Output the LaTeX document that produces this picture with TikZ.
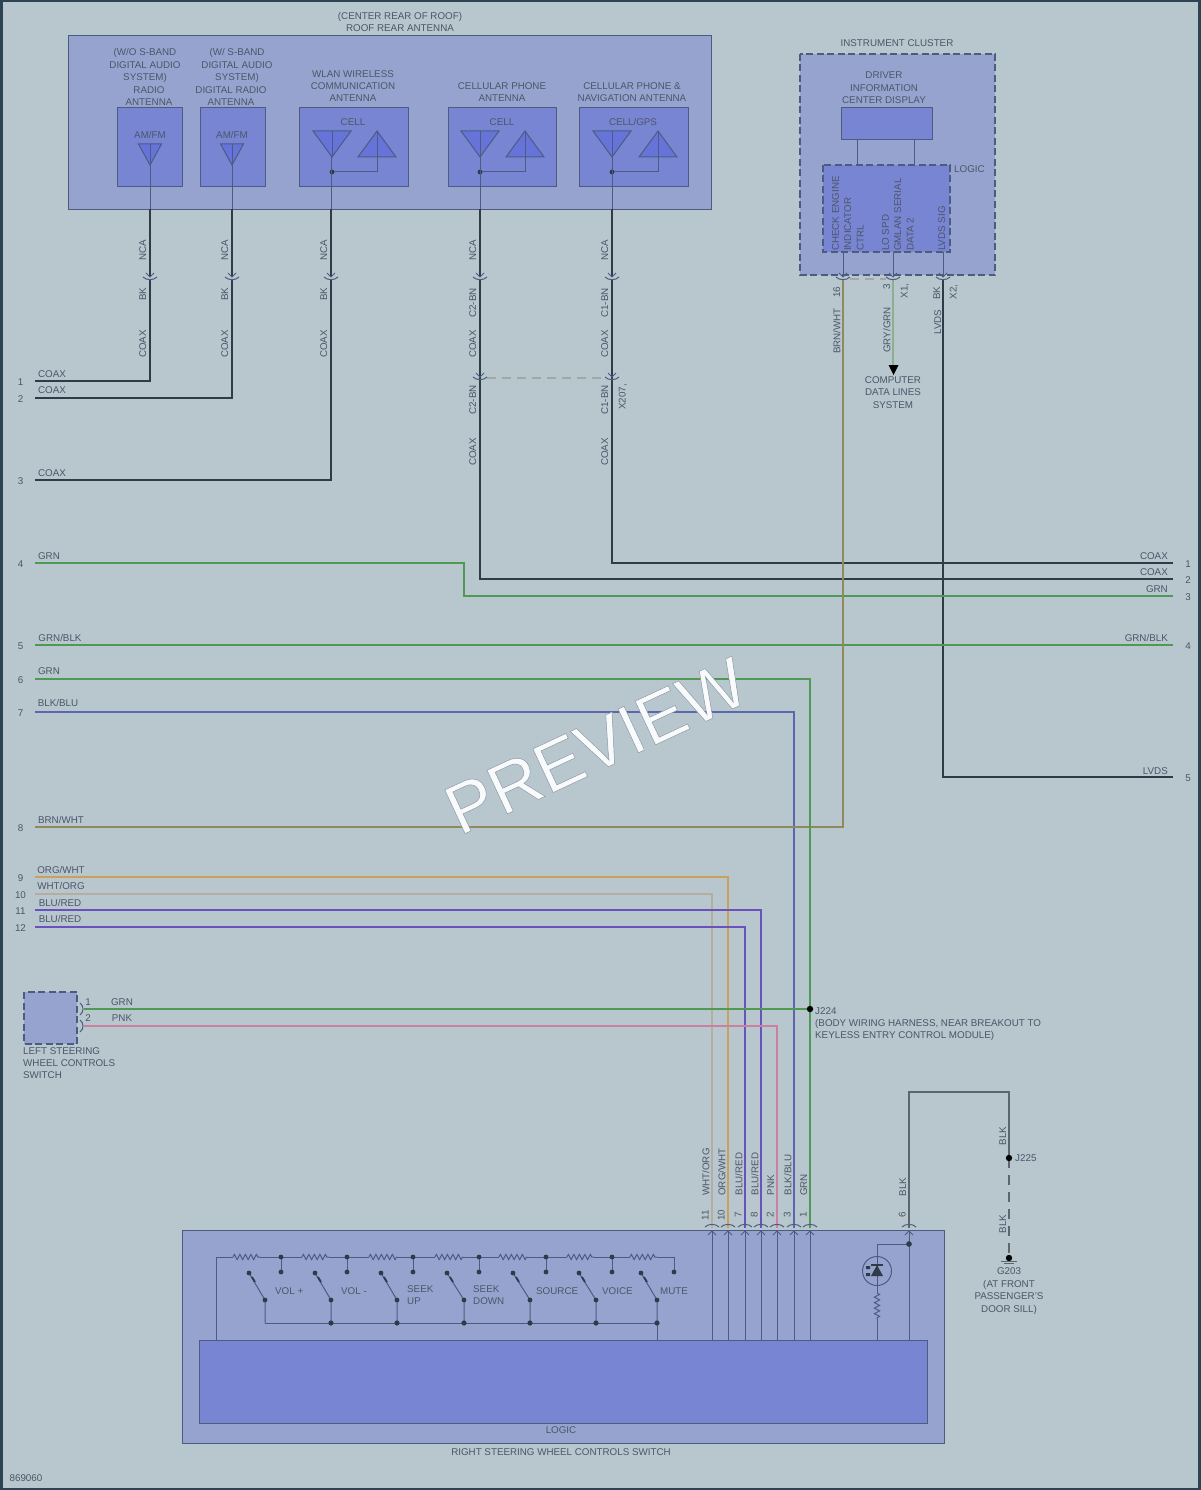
\documentclass[tikz,border=0pt]{standalone}
\usepackage{fontspec}
\setmainfont{Liberation Sans}
\usetikzlibrary{decorations.pathmorphing}
\definecolor{paper}{HTML}{B8C6CE}
\definecolor{frame}{HTML}{2E4352}
\definecolor{outerblue}{HTML}{96A3CF}
\definecolor{innerblue}{HTML}{7885D2}
\definecolor{antblue}{HTML}{6674DA}
\definecolor{edge}{HTML}{4C5C80}
\definecolor{inkgray}{HTML}{4B5668}
\definecolor{coaxblack}{HTML}{2F3B47}
\definecolor{grnwire}{HTML}{4E9A55}
\definecolor{bluwire}{HTML}{5C66B0}
\definecolor{brnwire}{HTML}{8E8A5E}
\definecolor{orgwire}{HTML}{C9A15F}
\definecolor{whtwire}{HTML}{B5AE9F}
\definecolor{redwire}{HTML}{6A52BE}
\definecolor{pnkwire}{HTML}{CC7F9F}
\definecolor{grywire}{HTML}{8FAE8F}
\definecolor{gndwire}{HTML}{5A6670}
\tikzset{
  lab/.style={font=\fontsize{9.8}{12.4}\selectfont, text=inkgray, inner sep=0pt, align=center},
  vlab/.style={lab, xshift=0.8pt, rotate=90},
  modbox/.style={draw=edge, line width=1pt, fill=outerblue},
  subbox/.style={draw=edge, line width=1pt, fill=innerblue},
  dashbox/.style={modbox, dashed, dash pattern=on 7pt off 3.5pt, line width=1.3pt},
  thinwire/.style={draw=edge, line width=1pt},
  res/.style={thinwire, decorate, decoration={zigzag, segment length=5.5pt, amplitude=2.6pt}},
  wire/.style={line width=2.8pt},
  coax/.style={wire, draw=coaxblack},
  linkdash/.style={draw=gray!70, line width=1.2pt, dash pattern=on 9pt off 6pt},
  anttri/.style={fill=antblue, draw=edge, line width=1pt},
  plugdown/.pic={
    \draw[thinwire] (-4,-6) -- (0,-2) -- (4,-6);
    \draw[thinwire] (-7,-2) .. controls (-4,1.5) and (4,1.5) .. (7,-2);
  },
  plugup/.pic={
    \draw[thinwire] (-7,-1) .. controls (-4,-4.5) and (4,-4.5) .. (7,-1);
    \draw[thinwire] (-4,7) -- (0,3) -- (4,7);
  },
  plugside/.pic={
    \draw[thinwire] (-3,-6) .. controls (1,-3) and (1,3) .. (-3,6);
  },
  antdown/.pic={
    \filldraw[anttri] (-19,0) -- (19,0) -- (0,26) -- cycle;
    \draw[thinwire] (0,0) -- (0,26);
  },
  antup/.pic={
    \filldraw[anttri] (-19,26) -- (19,26) -- (0,0) -- cycle;
    \draw[thinwire] (0,0) -- (0,26);
  },
  antsmall/.pic={
    \filldraw[anttri] (-11.5,0) -- (11.5,0) -- (0,21) -- cycle;
    \draw[thinwire] (0,0) -- (0,21);
  }
}

\begin{document}
\begin{tikzpicture}[x=1pt,y=-1pt]
  \useasboundingbox (0,0) rectangle (1200,1490);
  % Sheet and frame
  \fill[paper] (0,0) rectangle (1200,1490);
  \draw[frame, line width=5pt] (0,0) rectangle (1200,1490);

  % Roof antenna module
  \draw[modbox] (68,36) rectangle (711,209);
  \node[lab] (roofnote) at (400,22) {(CENTER REAR OF ROOF)\\ROOF REAR ANTENNA};
  \foreach \a/\b/\n in {117/182/a, 200/265/b, 299/408/c, 448/556/d, 579/688/e}
    \draw[subbox] (\a,108) rectangle (\b,187);
  \node[lab] (woband) at (145,65.5) {(W/O S-BAND\\DIGITAL AUDIO\\SYSTEM)};
  \node[lab] (woradio) at (149,96) {RADIO\\ANTENNA};
  \node[lab] (wband) at (237,65.5) {(W/ S-BAND\\DIGITAL AUDIO\\SYSTEM)};
  \node[lab] (wradio) at (231,96) {DIGITAL RADIO\\ANTENNA};
  \node[lab] (wlan) at (353,86) {WLAN WIRELESS\\COMMUNICATION\\ANTENNA};
  \node[lab] (cellph) at (502,92) {CELLULAR PHONE\\ANTENNA};
  \node[lab] (cellnav) at (632,92) {CELLULAR PHONE \&\\NAVIGATION ANTENNA};
  \node[lab] (amfma) at (150,135) {AM/FM};
  \node[lab] (amfmb) at (232,135) {AM/FM};
  \node[lab] (cellc) at (353,122) {CELL};
  \node[lab] (celld) at (502,122) {CELL};
  \node[lab] (celle) at (633,122) {CELL/GPS};

  % Antenna symbols
  \pic at (150,144) {antsmall};
  \pic at (232,144) {antsmall};
  \foreach \x/\u in {332/377, 480/525, 612/658} {
    \pic at (\x,131) {antdown};
    \pic at (\u,131) {antup};
    \draw[thinwire] (\u,157) |- (\x,172);
    \fill[coaxblack] (\x,172) circle (2.4pt);
  }

  % Antenna leads and their connectors
  \foreach \x/\n/\pin/\py in {150/a/BK/294, 232/b/BK/294, 331/c/BK/294, 480/d/C2-BN/303, 612/e/C1-BN/303} {
    \coordinate (box\n) at (\x,209);
    \coordinate (top\n) at (\x,157);
    \coordinate (plug\n) at (\x,279);
    \draw[thinwire] (top\n) -- (box\n);
    \draw[coax] (box\n) -- (\x,277);
    \node[vlab] (nca\n) at (\x-8,250) {NCA};
    \node[vlab] (pin\n) at (\x-8,\py) {\pin};
    \node[vlab] (cx\n) at (\x-8,344) {COAX};
  }
  % Left and right terminals
  \foreach \n/\y in {1/381, 2/398, 3/480, 4/563, 5/645, 6/679, 7/712, 8/827, 9/877, 10/894, 11/910, 12/927} {
    \coordinate (lft\n) at (35,\y);
    \node[lab] (num\n) at (20.5,\y+1) {\n};
  }
  \foreach \n/\y in {1/563, 2/579, 3/596, 4/645, 5/777} {
    \coordinate (rgt\n) at (1173,\y);
    \node[lab] (rnum\n) at (1188,\y+1) {\n};
  }
  % Cell leads, with the inline connector X207
  \coordinate (x207d) at (480,379);
  \coordinate (x207e) at (612,379);
  \coordinate (linkd) at (487,378);
  \coordinate (linke) at (606,378);
  \draw[coax] (plugd) -- (x207d);
  \draw[coax] (pluge) -- (x207e);
  \draw[coax] (x207d) |- (rgt2);
  \draw[coax] (x207e) |- (rgt1);
  \draw[coax] (pluga) |- (lft1);
  \draw[coax] (plugb) |- (lft2);
  \draw[coax] (plugc) |- (lft3);
  \draw[linkdash] (linkd) -- (linke);
  \foreach \n in {a,b,c,d,e} \pic at (plug\n) {plugdown};
  \pic at (x207d) {plugdown};
  \pic at (x207e) {plugdown};
  \node[vlab] (c2low) at (472,400) {C2-BN};
  \node[vlab] (cxdlow) at (472,452) {COAX};
  \node[vlab] (c1low) at (604,400) {C1-BN};
  \node[vlab] (cxelow) at (604,452) {COAX};
  \node[vlab] (x207) at (622,397) {X207,};

  % Instrument cluster
  \node[lab] (cluster) at (897,43) {INSTRUMENT CLUSTER};
  \draw[dashbox] (800,54) rectangle (995,275);
  \node[lab] (dic) at (884,88) {DRIVER\\INFORMATION\\CENTER DISPLAY};
  \draw[subbox] (841,108) rectangle (932,140);
  \draw[thinwire] (857,140) -- (857,165);
  \draw[thinwire] (914,140) -- (914,165);
  \draw[subbox, dashed, dash pattern=on 7pt off 3.5pt, line width=1.3pt] (823,165) rectangle (950,252);
  \node[lab, anchor=west] (cllogic) at (954,169) {LOGIC};
  \node[vlab, anchor=west, align=left] (chk) at (847,251) {CHECK ENGINE\\INDICATOR\\CTRL};
  \node[vlab, anchor=west, align=left] (gmlan) at (897,251) {LO SPD\\GMLAN SERIAL\\DATA 2};
  \node[vlab, anchor=west, align=left] (lvdssig) at (941,251) {LVDS SIG};
  \foreach \x/\n in {843/h, 893/i, 943/j} {
    \coordinate (clu\n) at (\x,279);
    \draw[thinwire] (\x,252) -- (\x,277);
  }
  \coordinate (linkh) at (850,279);
  \coordinate (linki) at (886,279);
  \draw[linkdash] (linkh) -- (linki);
  \node[vlab] (p16) at (836,292) {16};
  \node[vlab] (p3) at (886,287) {3};
  \node[vlab] (px1) at (904,291) {X1,};
  \node[vlab] (pbk) at (936,293) {BK};
  \node[vlab] (px2) at (953,292) {X2,};
  \node[vlab] (lbrn) at (836,331) {BRN/WHT};
  \node[vlab] (lgry) at (886,330) {GRY/GRN};
  \node[vlab] (llvds) at (937,322) {LVDS};
  \coordinate (datal) at (893,366);
  \draw[wire, draw=grywire] (clui) -- (datal);
  \fill[black] (888.5,365) -- (898.5,365) -- (893.5,375) -- cycle;
  \node[lab] (comp) at (893,392.5) {COMPUTER\\DATA LINES\\SYSTEM};
  \draw[coax] (cluj) |- (rgt5);
  \pic at (clui) {plugdown};
  \pic at (cluj) {plugdown};
  \node[lab, anchor=east] (rlvds) at (1168,771) {LVDS};

  % Right steering wheel switch
  \draw[modbox] (182,1230) rectangle (944,1443);
  \draw[subbox] (199,1340) rectangle (927,1423);
  \node[lab] (logicr) at (561,1430) {LOGIC};
  \node[lab] (rswitch) at (561,1452) {RIGHT STEERING WHEEL CONTROLS SWITCH};
  \foreach \x/\n/\pinno/\name/\ny in {712/k/11/WHT\slash ORG/1172, 728/l/10/ORG\slash WHT/1172, 745/m/7/BLU\slash RED/1174, 761/n/8/BLU\slash RED/1174, 777/o/2/PNK/1185, 794/p/3/BLK\slash BLU/1175, 810/q/1/GRN/1185, 909/r/6/BLK/1187} {
    \coordinate (sw\n) at (\x,1228);
    \draw[thinwire] (\x,1231) -- (\x,1340);
    \node[vlab] (no\n) at (\x-7.5,1215) {\pinno};
    \node[vlab] (nm\n) at (\x-7,\ny) {\name};
  }

  % Harness wires
  \coordinate (kink) at (464,596);
  \draw[wire, draw=grnwire] (lft4) -| (kink) -- (rgt3);
  \draw[wire, draw=grnwire] (lft5) -- (rgt4);
  \draw[wire, draw=bluwire] (lft7) -| (swp);
  \draw[wire, draw=brnwire] (lft8) -| (cluh);
  \draw[wire, draw=whtwire] (lft10) -| (swk);
  \draw[wire, draw=orgwire] (lft9) -| (swl);
  \draw[wire, draw=redwire] (lft12) -| (swm);
  \draw[wire, draw=redwire] (lft11) -| (swn);
  \coordinate (lsa) at (84,1009);
  \coordinate (lsb) at (84,1026);
  \coordinate (j224) at (810,1009);
  \draw[wire, draw=pnkwire] (lsb) -| (swo);
  \draw[wire, draw=grnwire] (lft6) -| (swq);
  \draw[wire, draw=grnwire] (lsa) -- (j224);
  \fill[black] (j224) circle (3.2pt);
  \pic at (cluh) {plugdown};
  \foreach \n in {k,l,m,n,o,p,q,r} \pic at (sw\n) {plugup};
  \node[lab, anchor=west] (j224a) at (815,1011) {J224};
  \node[lab, anchor=north west, align=left] (j224b) at (815,1019) {(BODY WIRING HARNESS, NEAR BREAKOUT TO\\KEYLESS ENTRY CONTROL MODULE)};

  % Wire labels, left side
  \foreach \x/\y/\t/\n in {52/374/COAX/a, 52/390/COAX/b, 52/473/COAX/c, 49/556/GRN/d, 60/638/GRN\slash BLK/e, 49/671/GRN/f, 58/703/BLK\slash BLU/g, 61/820/BRN\slash WHT/h, 61/870/ORG\slash WHT/i, 61/886/WHT\slash ORG/j, 60/903/BLU\slash RED/k, 60/919/BLU\slash RED/l}
    \node[lab] (wl\n) at (\x,\y) {\t};
  % Wire labels, right side
  \foreach \y/\t/\n in {556/COAX/a, 572/COAX/b, 589/GRN/c, 638/GRN\slash BLK/d}
    \node[lab, anchor=east] (wr\n) at (1168,\y) {\t};

  % Left steering wheel switch
  \draw[dashbox] (24,992) rectangle (77,1044);
  \pic at (83,1009) {plugside};
  \pic at (83,1026) {plugside};
  \node[lab] (lsn1) at (88,1002) {1};
  \node[lab] (lsn2) at (88,1018) {2};
  \node[lab] (lsgrn) at (122,1002) {GRN};
  \node[lab] (lspnk) at (122,1018) {PNK};
  \node[lab, anchor=north west, align=left] (lsname) at (23,1047) {LEFT STEERING\\WHEEL CONTROLS\\SWITCH};

  % Switch ladder
  \foreach \a/\b in {216/233, 260/302, 329/369, 397/435, 463/499, 527/567, 594/630, 657/674}
    \draw[thinwire] (\a,1257) -- (\b,1257);
  \foreach \a/\b in {233/260, 302/329, 369/397, 435/463, 499/527, 567/594, 630/657}
    \draw[res] (\a,1257) -- (\b,1257);
  \draw[thinwire] (216,1257) -- (216,1340);
  \draw[thinwire] (674,1257) -- (674,1272);
  \fill[coaxblack] (674,1272) circle (2.4pt);
  \foreach \x in {281, 347, 413, 479, 546, 612} {
    \draw[thinwire] (\x,1257) -- (\x,1272);
    \fill[coaxblack] (\x,1257) circle (2.4pt) (\x,1272) circle (2.4pt);
  }
  \foreach \s/\b in {249/265, 315/331, 381/397, 447/464, 513/530, 579/596, 641/657} {
    \draw[thinwire] (\s,1273) -- (\b,1300) -- (\b,1323);
    \draw[coaxblack, line width=1.8pt] (\s+3,1277) -- (\s+6,1282);
    \fill[coaxblack] (\s,1273) circle (2.4pt) (\b,1300) circle (2.4pt);
  }
  \draw[thinwire] (265,1323) -- (657,1323) -- (657,1340);
  \foreach \b in {331, 397, 464, 530, 596, 657}
    \fill[coaxblack] (\b,1323) circle (2.6pt);
  \node[lab, anchor=west] (vup) at (275,1291) {VOL +};
  \node[lab, anchor=west] (vdn) at (341,1291) {VOL -};
  \node[lab, anchor=north west, align=left] (skup) at (407,1285.5) {SEEK\\UP};
  \node[lab, anchor=north west, align=left] (skdn) at (473,1285.5) {SEEK\\DOWN};
  \node[lab, anchor=west] (src) at (536,1291) {SOURCE};
  \node[lab, anchor=west] (voi) at (602,1291) {VOICE};
  \node[lab, anchor=west] (mut) at (660,1291) {MUTE};

  % Backlight lamp
  \coordinate (lampdot) at (909,1244);
  \draw[thinwire] (lampdot) -| (877,1293);
  \draw[res] (877,1293) -- (877,1319);
  \draw[thinwire] (877,1319) -- (877,1340);
  \draw[thinwire] (877,1271) circle (14.5pt);
  \fill[coaxblack] (871,1276) -- (883,1276) -- (877,1265) -- cycle;
  \draw[coaxblack, line width=1.4pt] (871,1265) -- (883,1265);
  \fill[coaxblack] (866,1266) rectangle (870,1269) (866,1273) rectangle (870,1276);
  \fill[coaxblack] (lampdot) circle (2.8pt);

  % Ground path
  \coordinate (gndtop) at (1009,1092);
  \coordinate (j225) at (1009,1158);
  \coordinate (g203) at (1009,1258);
  \draw[gndwire, line width=2.2pt] (swr) |- (gndtop) -- (j225);
  \draw[gndwire, line width=2pt, dash pattern=on 10pt off 7pt] (j225) -- (g203);
  \fill[black] (j225) circle (3.2pt);
  \fill[black] (g203) circle (3.2pt);
  \draw[gndwire, line width=1pt] (1001,1261) -- (1017,1261) (1004,1263.5) -- (1014,1263.5);
  \node[vlab] (blka) at (1002,1136) {BLK};
  \node[vlab] (blkb) at (1002,1224) {BLK};
  \node[lab, anchor=west] (j225l) at (1015,1158) {J225};
  \node[lab] (g203l) at (1009,1291) {G203\\(AT FRONT\\PASSENGER'S\\DOOR SILL)};

  \node[lab] (partno) at (26,1478) {869060};

  % Watermark
  \node[font=\fontsize{70}{70}\selectfont, text=white!92!paper, rotate=25, inner sep=0pt] (mark) at (596,746) {\special{pdf:code 2 Tr 0.5 w 0.55 0.6 0.65 RG}PREVIEW\special{pdf:code 0 Tr}};
\end{tikzpicture}
\end{document}
